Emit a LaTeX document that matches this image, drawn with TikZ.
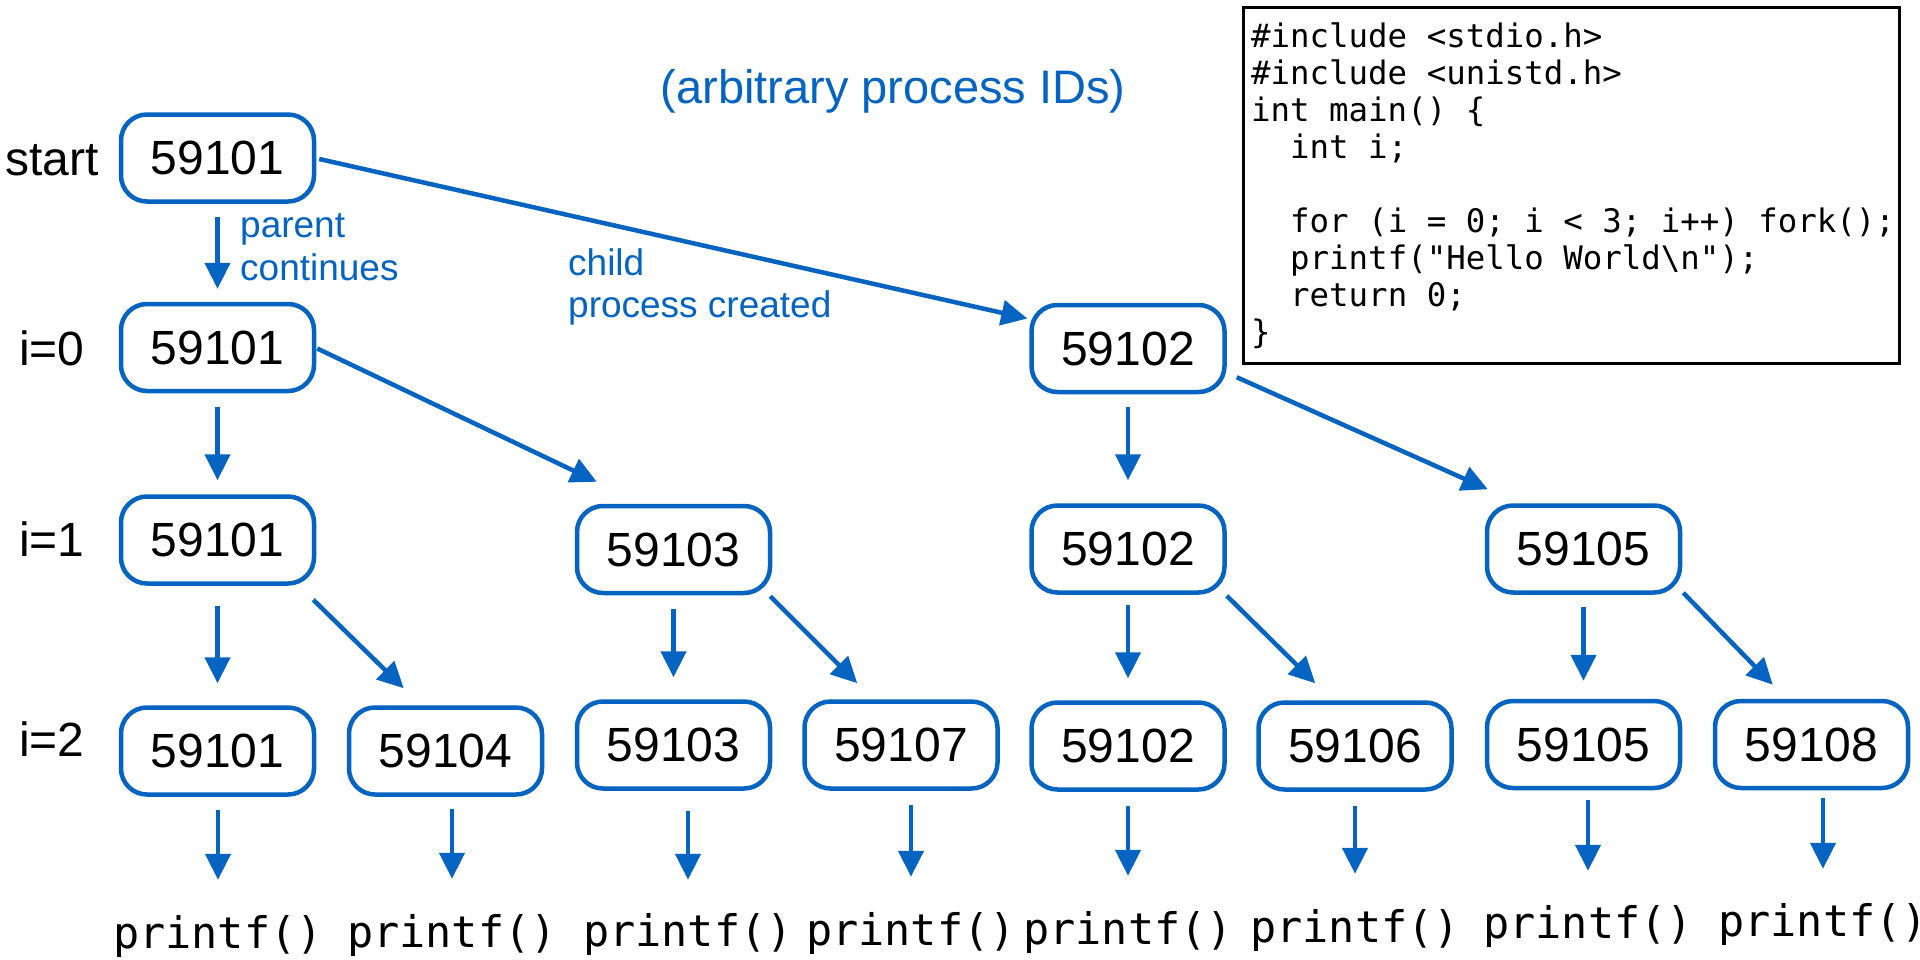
\documentclass[tikz,border=0pt]{standalone}
\usepackage{fontspec}
\setmainfont{Liberation Sans}
\newfontfamily\codefont{DejaVu Sans Mono}
\usetikzlibrary{arrows.meta,calc}
\definecolor{pblue}{RGB}{5,99,193}
\begin{document}
\begin{tikzpicture}[x=1pt,y=-1pt,
  box/.style={draw=pblue, line width=4.5pt, rounded corners=26pt, minimum width=193pt, minimum height=87pt, inner sep=0pt, fill=white, font=\fontsize{48}{58}\selectfont},
  arr/.style={draw=pblue, line width=4.5pt, -{Triangle[length=26pt,width=25pt]}},
  rowlab/.style={anchor=base west, inner sep=0pt, font=\fontsize{48}{58}\selectfont},
  bluelab/.style={anchor=base west, inner sep=0pt, text=pblue, font=\fontsize{37}{43}\selectfont},
  pf/.style={anchor=base, inner sep=0pt, font=\codefont\fontsize{43.5}{50}\selectfont},
  codeline/.style={anchor=base west, inner sep=0pt, font=\codefont\fontsize{32.4}{37}\selectfont}
]
\useasboundingbox (0,0) rectangle (1920,959);

% code box
\node (codebox) [draw=black, line width=2.5pt, minimum width=656pt, minimum height=356pt, anchor=north west, inner sep=0pt] at (1242,6) {};
\node (c0) [codeline] at (1251,47) {\#include <stdio.h>};
\node (c1l) [codeline] at (1251,84) {\#include <unistd.h>};
\node (c2l) [codeline] at (1251,121) {int main() \{};
\node (c3l) [codeline] at (1251,158) {\phantom{xx}int i;};
\node (c5l) [codeline] at (1251,232) {\phantom{xx}for (i = 0; i < 3; i++) fork();};
\node (c6l) [codeline] at (1251,269) {\phantom{xx}printf("Hello World{\char`\\}n");};
\node (c7l) [codeline] at (1251,306) {\phantom{xx}return 0;};
\node (c8l) [codeline] at (1251,343) {\}};

% titles and labels
\node (title) [anchor=base, inner sep=0pt, text=pblue, font=\fontsize{47}{56}\selectfont] at (893,103) {(arbitrary process IDs)};
\node (lstart) [rowlab] at (5,175) {start};
\node (l0) [rowlab] at (19,365) {i=0};
\node (l1) [rowlab] at (19,556) {i=1};
\node (l2) [rowlab] at (19,756) {i=2};
\node (parent1) [bluelab] at (240,237) {parent};
\node (parent2) [bluelab] at (240,280) {continues};
\node (child1) [bluelab] at (568,275) {child};
\node (child2) [bluelab] at (568,317) {process created};

% boxes
\node (s0) [box] at (217.5,158) {59101};
\node (a0) [box] at (217.5,347.5) {59101};
\node (b0) [box] at (1128,348.5) {59102};
\node (a1) [box] at (217.5,540) {59101};
\node (c1) [box] at (673.5,549.5) {59103};
\node (b1) [box] at (1128,549) {59102};
\node (d1) [box] at (1583.5,549) {59105};
\node (a2) [box] at (217.5,751) {59101};
\node (e2) [box] at (445.5,751) {59104};
\node (c2) [box] at (673.5,745) {59103};
\node (f2) [box] at (901,745) {59107};
\node (b2) [box] at (1128,746) {59102};
\node (g2) [box] at (1355,746) {59106};
\node (d2) [box] at (1583.5,744.5) {59105};
\node (h2) [box] at (1811.5,744.5) {59108};

% printf
\node (p1) [pf] at (218,948) {printf()};
\node (p2) [pf] at (452,947) {printf()};
\node (p3) [pf] at (688,946) {printf()};
\node (p4) [pf] at (911,945) {printf()};
\node (p5) [pf] at (1128,944) {printf()};
\node (p6) [pf] at (1355,942) {printf()};
\node (p7) [pf] at (1588,938) {printf()};
\node (p8) [pf] at (1823,936) {printf()};

% vertical arrows
\draw[arr, shorten <=13pt, shorten >=13pt] (s0) -- (a0);
\draw[arr, shorten <=14pt, shorten >=14pt] (a0) -- (a1);
\draw[arr, shorten <=13pt, shorten >=23pt] (b0) -- (b1);
\draw[arr, shorten <=20pt, shorten >=22pt] (a1) -- (a2);
\draw[arr, shorten <=14pt, shorten >=22pt] (c1) -- (c2);
\draw[arr, shorten <=10pt, shorten >=22pt] (b1) -- (b2);
\draw[arr, shorten <=12pt, shorten >=18pt] (d1) -- (d2);

% diagonal arrows
\draw[arr] ($(s0.east)+(3,1)$) -- ($(b0.west)+(-2,-30)$);
\draw[arr] ($(a0.east)+(1,1)$) -- ($(c1.north west)+(22,-22)$);
\draw[arr] ($(b0.south east)+(10,-17)$) -- ($(d1.north west)+(3,-14)$);
\draw[arr] ($(a1.south east)+(-3,14)$) -- ($(e2.north west)+(57,-17)$);
\draw[arr] ($(c1.south east)+(-2,1)$) -- ($(f2.north west)+(55,-16)$);
\draw[arr] ($(b1.south east)+(0,1)$) -- ($(g2.north west)+(59,-17)$);
\draw[arr] ($(d1.south east)+(1,-2)$) -- ($(h2.north west)+(60,-14)$);

% arrows to printf
\draw[arr, shorten <=13pt, shorten >=35pt] (a2.south -| p1) -- (p1.north);
\draw[arr, shorten <=12pt, shorten >=35pt] (e2.south -| p2) -- (p2.north);
\draw[arr, shorten <=20pt, shorten >=33pt] (c2.south -| p3) -- (p3.north);
\draw[arr, shorten <=14pt, shorten >=35pt] (f2.south -| p4) -- (p4.north);
\draw[arr, shorten <=14pt, shorten >=35pt] (b2.south -| p5) -- (p5.north);
\draw[arr, shorten <=14pt, shorten >=35pt] (g2.south -| p6) -- (p6.north);
\draw[arr, shorten <=10pt, shorten >=34pt] (d2.south -| p7) -- (p7.north);
\draw[arr, shorten <=8pt, shorten >=34pt] (h2.south -| p8) -- (p8.north);
\end{tikzpicture}
\end{document}
